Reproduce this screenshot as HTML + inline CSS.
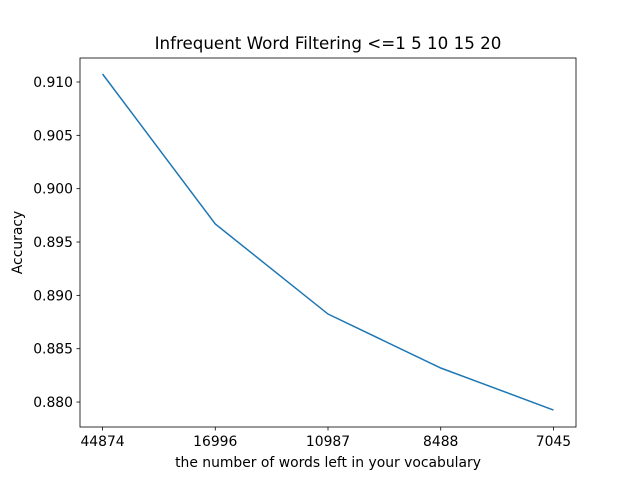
<!DOCTYPE html>
<html><head><meta charset="utf-8"><style>
body{margin:0;background:#fff}
svg text{font-family:"DejaVu Sans","Liberation Sans",sans-serif}
</style></head><body>
<svg id="chart" width="640" height="480" xmlns="http://www.w3.org/2000/svg">
<rect width="640" height="480" fill="#fff"/>
</svg>
<script>
const categories=["44874","16996","10987","8488","7045"];
const accuracy=[0.91075,0.89669,0.88825,0.88319,0.87925];
const yTicks=[0.880,0.885,0.890,0.895,0.900,0.905,0.910];
const ns="http://www.w3.org/2000/svg";
const svg=document.getElementById('chart');
const L=80,R=576,T=58,B=427;
const yMin=0.87766,yMax=0.91225;
const xs=i=>L+(i+0.2)/(categories.length-1+0.4)*(R-L);
const ys=v=>B-(v-yMin)/(yMax-yMin)*(B-T);
function mk(t,a,txt){const e=document.createElementNS(ns,t);for(const k in a)e.setAttribute(k,a[k]);if(txt!==undefined)e.textContent=txt;svg.appendChild(e);return e;}
yTicks.forEach(v=>{const y=ys(v);
const t=mk('line',{x1:L-3.5,x2:L,y1:y,y2:y,stroke:'#000','stroke-width':0.8});


const l=mk('text',{x:L-7,y:y+5,'text-anchor':'end','font-size':13.9},v.toFixed(3));

});
categories.forEach((c,i)=>{const x=xs(i);
const t=mk('line',{x1:x,x2:x,y1:B,y2:B+3.5,stroke:'#000','stroke-width':0.8});


const l=mk('text',{x:x,y:B+19,'text-anchor':'middle','font-size':13.9},c);

});
const line=mk('polyline',{points:accuracy.map((v,i)=>xs(i)+','+ys(v)).join(' '),fill:'none',stroke:'#1f77b4','stroke-width':1.5});


const fr=mk('rect',{x:L,y:T,width:R-L,height:B-T,fill:'none',stroke:'#000','stroke-width':0.8});


const ti=mk('text',{x:(L+R)/2,y:49,'text-anchor':'middle','font-size':16.7},'Infrequent Word Filtering <=1 5 10 15 20');


const xt=mk('text',{x:(L+R)/2,y:467,'text-anchor':'middle','font-size':13.9},'the number of words left in your vocabulary');


const yt=mk('text',{x:22,y:(T+B)/2,'text-anchor':'middle','font-size':13.9,transform:'rotate(-90 22 '+(T+B)/2+')'},'Accuracy');


</script>
</body></html>
